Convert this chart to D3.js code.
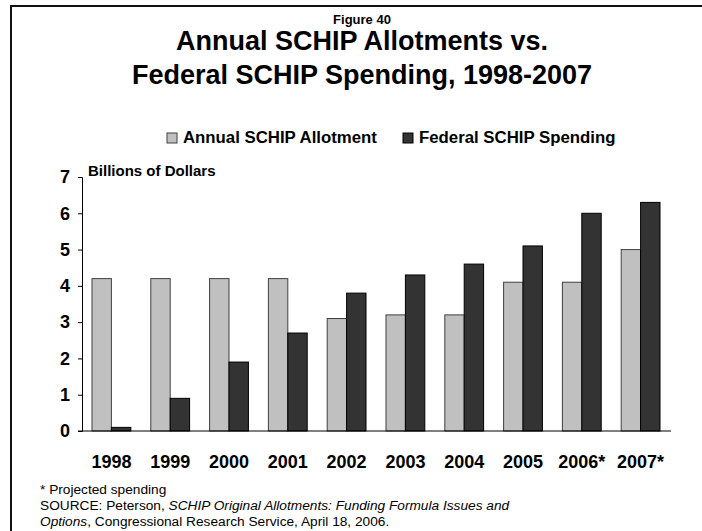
<!DOCTYPE html>
<html>
<head>
<meta charset="utf-8">
<script src="https://cdn.jsdelivr.net/npm/d3@7"></script>
<style>
  body { margin: 0; background: #fff; }
  svg { display: block; font-family: "Liberation Sans", Arial, sans-serif; }
</style>
</head>
<body>
<svg id="chart"></svg>
<script>
var width = 702,
    height = 531;

// data
var years = ["1998", "1999", "2000", "2001", "2002", "2003", "2004", "2005", "2006*", "2007*"];
var allotment = [4.2, 4.2, 4.2, 4.2, 3.1, 3.2, 3.2, 4.1, 4.1, 5.0];
var spending = [0.1, 0.9, 1.9, 2.7, 3.8, 4.3, 4.6, 5.1, 6.0, 6.3];
var seriesNames = ["Annual SCHIP Allotment", "Federal SCHIP Spending"];
var seriesColors = ["#c0c0c0", "#333333"];
var seriesStrokes = ["#404040", "#000000"];
var yTicks = [0, 1, 2, 3, 4, 5, 6, 7];

var svg = d3.select("#chart")
    .attr("width", width)
    .attr("height", height);

// frame (left and top edges only are visible)
svg.append("path")
    .attr("d", "M11," + (height + 5) + "V6H" + (width + 5))
    .attr("fill", "none")
    .attr("stroke", "#111")
    .attr("stroke-width", 2);

var cx = 362;

svg.append("text")
    .attr("x", cx).attr("y", 24)
    .attr("text-anchor", "middle")
    .style("font-weight", "bold")
    .style("font-size", "13px")
    .text("Figure 40");

svg.append("text")
    .attr("x", cx).attr("y", 50)
    .attr("text-anchor", "middle")
    .style("font-weight", "bold")
    .style("font-size", "27px")
    .text("Annual SCHIP Allotments vs.");

svg.append("text")
    .attr("x", cx).attr("y", 84)
    .attr("text-anchor", "middle")
    .style("font-weight", "bold")
    .style("font-size", "27px")
    .text("Federal SCHIP Spending, 1998-2007");

// legend
var legendX = [167, 403];
var legend = svg.selectAll("g.legend").data(seriesNames).enter().append("g")
    .attr("class", "legend")
    .attr("transform", function(d, i) { return "translate(" + legendX[i] + ",133)"; });

legend.append("rect")
    .attr("width", 10).attr("height", 10)
    .attr("fill", function(d, i) { return seriesColors[i]; })
    .attr("stroke", function(d, i) { return seriesStrokes[i]; })
    .attr("stroke-width", 1);

legend.append("text")
    .attr("x", 16).attr("y", 10)
    .style("font-weight", "bold")
    .style("font-size", "16.8px")
    .text(function(d) { return d; });

// scales
var x0 = d3.scaleBand()
    .domain(years)
    .range([82, 670])
    .paddingInner(0.34)
    .paddingOuter(0.17);

var x1 = d3.scaleBand()
    .domain([0, 1])
    .range([0, x0.bandwidth()]);

var y = d3.scaleLinear()
    .domain([0, 7])
    .range([431, 177]);

// bars
var rows = years.map(function(yr, i) {
    return { year: yr, values: [allotment[i], spending[i]] };
});

var group = svg.selectAll("g.year").data(rows).enter().append("g")
    .attr("class", "year")
    .attr("transform", function(d) { return "translate(" + x0(d.year) + ",0)"; });

group.selectAll("rect")
    .data(function(d) { return d.values; })
    .enter().append("rect")
    .attr("x", function(d, i) { return x1(i); })
    .attr("y", function(d) { return y(d); })
    .attr("width", x1.bandwidth())
    .attr("height", function(d) { return y(0) - y(d); })
    .attr("fill", function(d, i) { return seriesColors[i]; })
    .attr("stroke", function(d, i) { return seriesStrokes[i]; })
    .attr("stroke-width", 1);

// y axis
var yAxis = svg.append("g")
    .attr("transform", "translate(82,0)")
    .call(d3.axisLeft(y).tickValues(yTicks).tickSize(4).tickPadding(8).tickFormat(d3.format("d")));

yAxis.select(".domain").attr("stroke", "#000");
yAxis.selectAll(".tick line").attr("stroke", "#000");
yAxis.selectAll("text")
    .attr("fill", "#000")
    .style("font-family", "'Liberation Sans', Arial, sans-serif")
    .style("font-weight", "bold")
    .style("font-size", "18px");

// x axis baseline
svg.append("line")
    .attr("x1", 78).attr("x2", 671)
    .attr("y1", y(0)).attr("y2", y(0))
    .attr("stroke", "#000")
    .attr("stroke-width", 1);

svg.selectAll("text.year")
    .data(years).enter().append("text")
    .attr("class", "year")
    .attr("x", function(d) { return x0(d) + x0.bandwidth() / 2; })
    .attr("y", 468)
    .attr("text-anchor", "middle")
    .style("font-weight", "bold")
    .style("font-size", "18px")
    .text(function(d) { return d; });

svg.append("text")
    .attr("x", 88).attr("y", 176)
    .style("font-weight", "bold")
    .style("font-size", "15px")
    .text("Billions of Dollars");

// footnotes
var notes = svg.append("g").style("font-size", "13.7px");

notes.append("text")
    .attr("x", 40).attr("y", 494)
    .text("* Projected spending");

var src = notes.append("text").attr("x", 40).attr("y", 510);
src.append("tspan").text("SOURCE: Peterson, ");
src.append("tspan").style("font-style", "italic")
    .text("SCHIP Original Allotments: Funding Formula Issues and");

var src2 = notes.append("text").attr("x", 40).attr("y", 526);
src2.append("tspan").style("font-style", "italic").text("Options");
src2.append("tspan").text(", Congressional Research Service, April 18, 2006.");
</script>
</body>
</html>
